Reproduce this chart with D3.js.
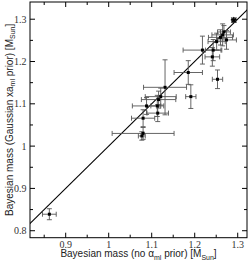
<!DOCTYPE html>
<html>
<head>
<meta charset="utf-8">
<script src="https://cdn.jsdelivr.net/npm/d3@7"></script>
<style>
  html, body { margin: 0; padding: 0; background: #fff; }
  svg { display: block; }
</style>
</head>
<body>
<div id="chart"></div>
<script>
// masses: no-prior (x) vs gaussian-prior (y), with errors
const massNoPrior  = [1.291, 1.265, 1.251, 1.274, 1.260, 1.268, 1.218, 1.243, 1.241, 1.185, 1.253,
                      1.131, 1.191, 1.121, 1.116, 1.088, 1.113, 1.114, 1.080, 1.080, 1.077, 0.862];
const massGauss    = [1.298, 1.263, 1.247, 1.251, 1.257, 1.270, 1.227, 1.227, 1.211, 1.174, 1.158,
                      1.139, 1.117, 1.117, 1.110, 1.095, 1.095, 1.078, 1.066, 1.030, 1.024, 0.839];
const errNoPrior   = [0.005, 0.025, 0.020, 0.023, 0.028, 0.015, 0.045, 0.018, 0.017, 0.033, 0.012,
                      0.050, 0.012, 0.036, 0.040, 0.033, 0.015, 0.025, 0.027, 0.072, 0.008, 0.016];
const errGauss     = [0.005, 0.026, 0.020, 0.022, 0.018, 0.015, 0.033, 0.025, 0.022, 0.028, 0.022,
                      0.065, 0.028, 0.020, 0.020, 0.020, 0.025, 0.020, 0.020, 0.014, 0.010, 0.013];
const starIndex = 0;

const xTicks = [0.9, 1, 1.1, 1.2, 1.3];
const yTicks = [0.8, 0.9, 1, 1.1, 1.2, 1.3];
const xMinor = [0.85, 0.95, 1.05, 1.15, 1.25];
const yMinor = [0.85, 0.95, 1.05, 1.15, 1.25];

const pts = massNoPrior.map((x, i) => ({
  x, y: massGauss[i], ex: errNoPrior[i], ey: errGauss[i], star: i === starIndex
}));

const W = 249, H = 263;
const L = 30, T = 2, R = 247, B = 237.7;

const x = d3.scaleLinear().domain([0.817, 1.3216]).range([L, R]);
const y = d3.scaleLinear().domain([0.7835, 1.3407]).range([B, T]);

const svg = d3.select("#chart").append("svg")
  .attr("width", W).attr("height", H);

svg.append("clipPath").attr("id", "clip")
  .append("rect").attr("x", L).attr("y", T).attr("width", R - L).attr("height", B - T);

const plot = svg.append("g").attr("clip-path", "url(#clip)");

// y = x line
const lo = 0.78, hi = 1.35;
plot.append("line")
  .attr("x1", x(lo)).attr("y1", y(lo))
  .attr("x2", x(hi)).attr("y2", y(hi))
  .attr("stroke", "#000").attr("stroke-width", 1.1);

// error bars
const eb = plot.append("g").attr("stroke", "#555").attr("stroke-width", 0.9).attr("fill", "none");
const cap = 2.5;
pts.forEach(d => {
  const cx = x(d.x), cy = y(d.y);
  const x0 = x(d.x - d.ex), x1 = x(d.x + d.ex);
  const y0 = y(d.y - d.ey), y1 = y(d.y + d.ey);
  eb.append("path").attr("d",
    `M${x0},${cy}H${x1}` +
    `M${x0},${cy - cap}V${cy + cap}M${x1},${cy - cap}V${cy + cap}` +
    `M${cx},${y0}V${y1}` +
    `M${cx - cap},${y0}H${cx + cap}M${cx - cap},${y1}H${cx + cap}`);
});

// points
plot.selectAll("rect.pt")
  .data(pts.filter(d => !d.star))
  .join("rect").attr("class", "pt")
    .attr("x", d => x(d.x) - 1.5).attr("y", d => y(d.y) - 1.5)
    .attr("width", 3).attr("height", 3)
    .attr("fill", "#000");

pts.filter(d => d.star).forEach(d => {
  plot.append("path")
    .attr("transform", `translate(${x(d.x)},${y(d.y)})`)
    .attr("d", d3.symbol(d3.symbolStar, 14)())
    .attr("fill", "#000");
  plot.append("path")
    .attr("transform", `translate(${x(d.x)},${y(d.y)})`)
    .attr("d", "M-3,0H3M0,-3V3M-2.3,-2.3L2.3,2.3M-2.3,2.3L2.3,-2.3")
    .attr("stroke", "#000").attr("stroke-width", 0.9);
});

// frame
svg.append("rect")
  .attr("x", L).attr("y", T).attr("width", R - L).attr("height", B - T)
  .attr("fill", "none").attr("stroke", "#000").attr("stroke-width", 1);

// inward ticks on all four sides
const tk = svg.append("g").attr("stroke", "#000").attr("stroke-width", 1);
xTicks.forEach(v => {
  tk.append("line").attr("x1", x(v)).attr("x2", x(v)).attr("y1", B).attr("y2", B - 5);
  tk.append("line").attr("x1", x(v)).attr("x2", x(v)).attr("y1", T).attr("y2", T + 5);
});
xMinor.forEach(v => {
  tk.append("line").attr("x1", x(v)).attr("x2", x(v)).attr("y1", B).attr("y2", B - 3);
  tk.append("line").attr("x1", x(v)).attr("x2", x(v)).attr("y1", T).attr("y2", T + 3);
});
yTicks.forEach(v => {
  tk.append("line").attr("y1", y(v)).attr("y2", y(v)).attr("x1", L).attr("x2", L + 5);
  tk.append("line").attr("y1", y(v)).attr("y2", y(v)).attr("x1", R).attr("x2", R - 5);
});
yMinor.forEach(v => {
  tk.append("line").attr("y1", y(v)).attr("y2", y(v)).attr("x1", L).attr("x2", L + 3);
  tk.append("line").attr("y1", y(v)).attr("y2", y(v)).attr("x1", R).attr("x2", R - 3);
});

// tick labels
const fmt = v => String(v);
svg.append("g").selectAll("text")
  .data(xTicks).join("text")
    .attr("x", d => x(d)).attr("y", 247.5)
    .attr("text-anchor", "middle")
    .style("font", "10px 'Liberation Serif', serif")
    .attr("fill", "#333")
    .text(fmt);

svg.append("g").selectAll("text")
  .data(yTicks).join("text")
    .attr("x", 26.5).attr("y", d => y(d) + 3.5)
    .attr("text-anchor", "end")
    .style("font", "10px 'Liberation Serif', serif")
    .attr("fill", "#333")
    .text(fmt);

// axis titles
const xt = svg.append("text")
  .attr("x", (L + R) / 2).attr("y", 257)
  .attr("text-anchor", "middle")
  .style("font", "10px 'Liberation Sans', Arial, sans-serif")
  .attr("fill", "#222");
xt.append("tspan").text("Bayesian mass (no \u03b1");
xt.append("tspan").attr("dy", 2.5).style("font-size", "7px").text("ml");
xt.append("tspan").attr("dy", -2.5).text(" prior)  [M");
xt.append("tspan").attr("dy", 2.5).style("font-size", "7px").text("Sun");
xt.append("tspan").attr("dy", -2.5).text("]");

const yt = svg.append("text")
  .attr("transform", `translate(12.5,${(T + B) / 2}) rotate(-90)`)
  .attr("text-anchor", "middle")
  .style("font", "10px 'Liberation Sans', Arial, sans-serif")
  .attr("fill", "#222");
yt.append("tspan").text("Bayesian mass (Gaussian xa");
yt.append("tspan").attr("dy", 2.5).style("font-size", "7px").text("ml");
yt.append("tspan").attr("dy", -2.5).text(" prior) [M");
yt.append("tspan").attr("dy", 2.5).style("font-size", "7px").text("Sun");
yt.append("tspan").attr("dy", -2.5).text("]");
</script>
</body>
</html>
